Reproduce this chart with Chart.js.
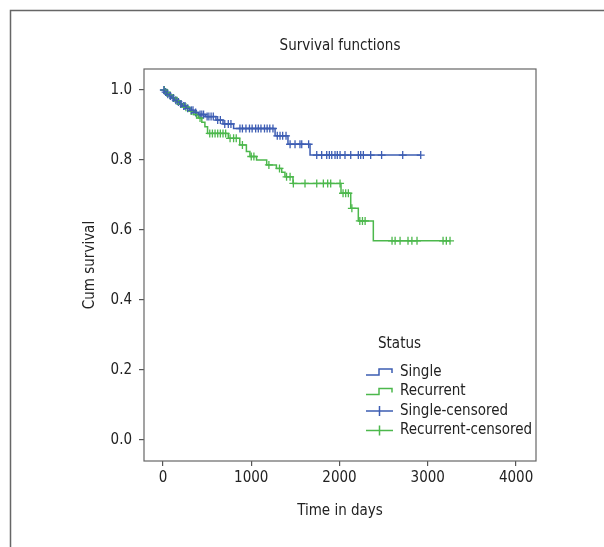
<!DOCTYPE html>
<html>
<head>
<meta charset="utf-8">
<script src="https://cdn.jsdelivr.net/npm/chart.js@4/dist/chart.umd.min.js"></script>
<style>
  html, body { margin: 0; padding: 0; background: #fff; }
  #wrap { width: 604px; height: 547px; }
</style>
</head>
<body>
<div id="wrap"><canvas id="km"></canvas></div>
<script>
// Kaplan-Meier steps (time in days, cumulative survival)
const singleTimes = [0, 20, 45, 70, 100, 130, 160, 190, 220, 260, 300, 350, 400, 480, 600, 680, 800, 1270, 1416, 1666, 2920];
const singleSurv = [1.0, 0.994, 0.988, 0.983, 0.977, 0.971, 0.966, 0.96, 0.954, 0.948, 0.942, 0.936, 0.93, 0.924, 0.914, 0.903, 0.89, 0.869, 0.845, 0.814, 0.814];
const singleCensored = [10, 30, 55, 85, 115, 145, 175, 205, 235, 250, 280, 320, 340, 370, 420, 440, 460, 500, 520, 545, 570, 620, 650, 700, 740, 770,
  872, 900, 940, 980, 1010, 1050, 1080, 1110, 1150, 1180, 1210, 1246, 1295, 1326, 1356, 1394, 1440, 1496, 1552, 1572, 1650,
  1742, 1798, 1855, 1885, 1912, 1949, 1975, 2006, 2062, 2127, 2213, 2240, 2270, 2353, 2477, 2716, 2920];

const recurTimes = [0, 30, 60, 100, 140, 180, 230, 300, 350, 400, 440, 475, 505, 740, 870, 945, 985, 1060, 1175, 1285, 1345, 1382, 1473, 2017, 2127, 2213, 2383, 3252];
const recurSurv = [1.0, 0.992, 0.985, 0.977, 0.969, 0.96, 0.951, 0.94, 0.93, 0.92, 0.908, 0.895, 0.876, 0.862, 0.843, 0.824, 0.81, 0.8, 0.786, 0.776, 0.765, 0.752, 0.733, 0.705, 0.662, 0.626, 0.569, 0.569];
const recurCensored = [15, 45, 80, 120, 160, 200, 260, 320, 380, 420, 530, 560, 590, 620, 650, 680, 710, 760, 800, 830, 900, 1000, 1030, 1200, 1320, 1400, 1440,
  1477, 1609, 1742, 1817, 1866, 1900, 2006, 2040, 2070, 2100, 2140, 2230, 2260, 2290, 2595, 2630, 2686, 2776, 2820, 2878, 3173, 3210, 3252];

const xTicks = [0, 1000, 2000, 3000, 4000];
const yTicks = [0, 0.2, 0.4, 0.6, 0.8, 1.0];
const legendLabels = ['Single', 'Recurrent', 'Single-censored', 'Recurrent-censored'];

const BLUE = '#3d5db3';
const GREEN = '#4cb84c';
const FONT = "'Liberation Sans Narrow', 'DejaVu Sans Condensed', 'Roboto Condensed', sans-serif";
const FS = 15;

// survival level of a curve at time t (censor marks sit on the curve)
function survAt(times, surv, t) {
  let s = surv[0];
  for (let i = 0; i < times.length; i++) if (times[i] <= t) s = surv[i];
  return s;
}
const pts = (ts, ss) => ts.map((t, i) => ({ x: t, y: ss[i] }));
const cens = (cs, ts, ss) => cs.map(t => ({ x: t, y: survAt(ts, ss, t) }));

// outer frame, plot box, title and the legend
const extras = {
  id: 'extras',
  beforeDraw(chart) {
    const ctx = chart.ctx;
    ctx.save();
    ctx.strokeStyle = '#666';
    ctx.lineWidth = 1.5;
    ctx.beginPath();
    ctx.moveTo(10.5, 547); ctx.lineTo(10.5, 10.5); ctx.lineTo(604, 10.5);
    ctx.stroke();
    ctx.restore();
  },
  afterDraw(chart) {
    const ctx = chart.ctx;
    const a = chart.chartArea;
    ctx.save();
    ctx.strokeStyle = '#666';
    ctx.lineWidth = 1.2;
    ctx.strokeRect(a.left, a.top, a.right - a.left, a.bottom - a.top);

    ctx.font = FS + 'px ' + FONT;
    ctx.fillStyle = '#222';
    ctx.textBaseline = 'middle';
    ctx.textAlign = 'center';
    ctx.fillText('Survival functions', (a.left + a.right) / 2, 46);
    ctx.textAlign = 'left';
    ctx.fillText('Status', 378, 344);
    const cols = [BLUE, GREEN, BLUE, GREEN];
    legendLabels.forEach((lab, i) => {
      const y = 372 + i * 19.5;
      ctx.strokeStyle = cols[i];
      ctx.lineWidth = 1.5;
      ctx.beginPath();
      if (i < 2) {
        ctx.moveTo(366, y + 3); ctx.lineTo(379, y + 3); ctx.lineTo(379, y - 3);
        ctx.lineTo(392, y - 3); ctx.lineTo(392, y + 1);
      } else {
        ctx.moveTo(366, y); ctx.lineTo(393, y);
        ctx.moveTo(379.5, y - 5); ctx.lineTo(379.5, y + 5);
      }
      ctx.stroke();
      ctx.fillStyle = '#222';
      ctx.fillText(lab, 400, y);
    });
    ctx.restore();
  }
};

new Chart(document.getElementById('km'), {
  type: 'scatter',
  data: {
    datasets: [
      { label: 'Single', data: pts(singleTimes, singleSurv), showLine: true, stepped: true,
        borderColor: BLUE, borderWidth: 1.5, pointRadius: 0 },
      { label: 'Recurrent', data: pts(recurTimes, recurSurv), showLine: true, stepped: true,
        borderColor: GREEN, borderWidth: 1.5, pointRadius: 0 },
      { label: 'Single-censored', data: cens(singleCensored, singleTimes, singleSurv),
        pointStyle: 'cross', pointRadius: 4, borderColor: BLUE, borderWidth: 1.3 },
      { label: 'Recurrent-censored', data: cens(recurCensored, recurTimes, recurSurv),
        pointStyle: 'cross', pointRadius: 4, borderColor: GREEN, borderWidth: 1.3 }
    ]
  },
  options: {
    responsive: true,
    maintainAspectRatio: false,
    animation: false,
    layout: { padding: { left: 0, right: 68, top: 69, bottom: 0 } },
    plugins: {
      legend: { display: false },
      tooltip: { enabled: false },
      title: { display: false }
    },
    scales: {
      x: {
        type: 'linear',
        min: -215, max: 4226,
        afterFit: s => { s.height = 86; },
        afterBuildTicks: s => { s.ticks = xTicks.map(v => ({ value: v })); },
        grid: { drawOnChartArea: false, drawTicks: true, tickLength: 5, color: '#555', lineWidth: 1.2 },
        border: { display: false },
        ticks: { color: '#222', padding: 3, font: { family: FONT, size: FS }, callback: v => String(v) },
        title: { display: true, text: 'Time in days', color: '#222',
                 font: { family: FONT, size: FS, lineHeight: 1.2 }, padding: { top: 0, bottom: 27 } }
      },
      y: {
        min: -0.06, max: 1.06,
        afterFit: s => { s.width = 144; },
        afterBuildTicks: s => { s.ticks = yTicks.map(v => ({ value: v })); },
        grid: { drawOnChartArea: false, drawTicks: true, tickLength: 5, color: '#555', lineWidth: 1.2 },
        border: { display: false },
        ticks: { color: '#222', padding: 7, font: { family: FONT, size: FS }, callback: v => v.toFixed(1) },
        title: { display: true, text: 'Cum survival', color: '#222',
                 font: { family: FONT, size: FS, lineHeight: 1.2 }, padding: { top: 81, bottom: 0 } }
      }
    }
  },
  plugins: [extras]
});
</script>
</body>
</html>
